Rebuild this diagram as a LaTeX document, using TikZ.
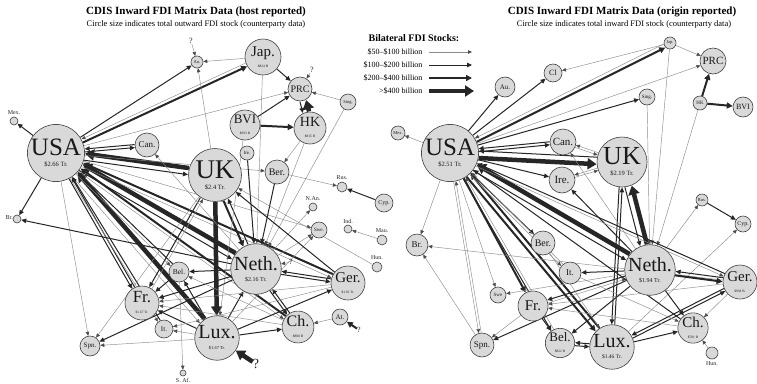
\documentclass[tikz,border=0pt]{standalone}
\usepackage{fontspec}
\setmainfont{Liberation Serif}
\usetikzlibrary{arrows.meta,calc}
\pgfdeclarelayer{bg}
\pgfsetlayers{bg,main}
\newcommand\fs[1]{\fontsize{#1}{#1}\selectfont}
\newcommand\pe[4]{%
  \pgfmathanglebetweenpoints{\pgfpointanchor{#2}{center}}{\pgfpointanchor{#3}{center}}%
  \edef\peang{\pgfmathresult}%
  \draw[#1, transform canvas={shift={(\peang-90:#4)}}] (#2) -- (#3);}
\tikzset{
  cn/.style={circle, draw=black!75, fill=black!15, line width=0.6pt, inner sep=0pt, align=center, text=black!90},
  lbl/.style={inner sep=0pt, font=\fs{6}, text=black!85},
  qm/.style={inner sep=0pt, font=\fs{8}, text=black!85},
  a1/.style={draw=black!45, line width=0.45pt, -{Triangle[length=4pt,width=3.5pt,color=black!70]}},
  a2/.style={draw=black!85, line width=1pt, -{Triangle[length=5pt,width=4.5pt]}},
  a3/.style={draw=black!85, line width=2pt, -{Triangle[length=6pt,width=6pt]}},
  a4/.style={draw=black!85, line width=4.5pt, -{Triangle[length=9pt,width=11pt]}},
}
\begin{document}
\begin{tikzpicture}[x=1pt,y=-1pt]
\useasboundingbox (0,0) rectangle (757,383);
% titles
\node[font=\bfseries\fs{11}] (tL) at (196,12) {CDIS Inward FDI Matrix Data (host reported)};
\node[font=\fs{8.5}] (sL) at (196,24) {Circle size indicates total outward FDI stock (counterparty data)};
\node[font=\bfseries\fs{11}] (tR) at (622,12) {CDIS Inward FDI Matrix Data (origin reported)};
\node[font=\fs{8.5}] (sR) at (624,24) {Circle size indicates total inward FDI stock (counterparty data)};
% legend
\node[font=\bfseries\fs{10}] (lg) at (414,38) {Bilateral FDI Stocks:};
\node[font=\fs{8}, anchor=east] (lg1) at (426,52) {\$50--\$100 billion};
\node[font=\fs{8}, anchor=east] (lg2) at (426,65) {\$100--\$200 billion};
\node[font=\fs{8}, anchor=east] (lg3) at (426,78) {\$200--\$400 billion};
\node[font=\fs{8}, anchor=east] (lg4) at (426,91) {>\$400 billion};
\coordinate (g1s) at (429,52); \coordinate (g1e) at (472,52);
\coordinate (g2s) at (429,65); \coordinate (g2e) at (472,65);
\coordinate (g3s) at (429,78); \coordinate (g3e) at (472,78);
\coordinate (g4s) at (429,91); \coordinate (g4e) at (474,91);
\draw[a1] (g1s) -- (g1e);
\draw[a2] (g2s) -- (g2e);
\draw[a3] (g3s) -- (g3e);
\draw[a4] (g4s) -- (g4e);

% ===== LEFT PANEL NODES =====
\node[cn, minimum size=56pt] (LUSA) at (56,153) {\fs{25}USA\\[-1pt]\fs{6.5}\$2.66 Tr.};
\node[cn, minimum size=8pt] (LMex) at (14,121) {};
\node[lbl] (LMexl) at (14,113) {Mex.};
\node[cn, minimum size=8pt] (LBr) at (17,219) {};
\node[lbl, anchor=east] (LBrl) at (13,218) {Br.};
\node[cn, minimum size=12pt] (LAu) at (197,62) {\fs{4.5}Au.};
\node[qm] (LqAu) at (191,41) {?};
\node[cn, minimum size=36pt] (LJap) at (263,57) {\fs{15}Jap.\\[-1pt]\fs{3.5}\$824 B};
\node[cn, minimum size=24pt] (LPRC) at (300,89) {\fs{10}PRC};
\node[qm] (LqPRC) at (312,70) {?};
\node[cn, minimum size=16pt] (LSing) at (348,102) {\fs{4.5}Sing.};
\node[cn, minimum size=30pt] (LBVI) at (245,125) {\fs{13}BVI\\[-1pt]\fs{3.5}\$693 B};
\node[cn, minimum size=32pt] (LHK) at (310,128) {\fs{14}HK\\[-1pt]\fs{3.5}\$815 B};
\node[cn, minimum size=24pt] (LCan) at (147,145) {\fs{9}Can.};
\node[cn, minimum size=53pt] (LUK) at (215,175) {\fs{27}UK\\[-1pt]\fs{6.5}\$2.4 Tr.};
\node[cn, minimum size=14pt] (LIre) at (247,153) {\fs{5}Ire.};
\node[cn, minimum size=24pt] (LBer) at (277,172) {\fs{10}Ber.};
\node[cn, minimum size=10pt] (LRus) at (342,187) {};
\node[lbl] (LRusl) at (342,178) {Rus.};
\node[cn, minimum size=18pt] (LCyp) at (384,203) {\fs{6}Cyp.};
\node[cn, minimum size=8pt] (LNAn) at (313,207) {};
\node[lbl] (LNAnl) at (313,199) {N.An.};
\node[cn, minimum size=16pt] (LSwe) at (319,230) {\fs{5}Swe.};
\node[cn, minimum size=8pt] (LInd) at (348,229) {};
\node[lbl] (LIndl) at (348,221) {Ind.};
\node[cn, minimum size=10pt] (LMau) at (382,240) {};
\node[lbl] (LMaul) at (382,231) {Mau.};
\node[cn, minimum size=10pt] (LHun) at (377,267) {};
\node[lbl] (LHunl) at (377,258) {Hun.};
\node[cn, minimum size=47pt] (LNeth) at (256,269) {\fs{20}Neth.\\[-1pt]\fs{6}\$2.16 Tr.};
\node[qm] (LqNeth) at (291,262) {?};
\node[cn, minimum size=34pt] (LGer) at (348,283) {\fs{15}Ger.\\[-1pt]\fs{3.5}\$1.01 Tr.};
\node[cn, minimum size=20pt] (LBel) at (179,272) {\fs{7.5}Bel.};
\node[cn, minimum size=34pt] (LFr) at (142,303) {\fs{17}Fr.\\[-1pt]\fs{3.5}\$1.67 Tr.};
\node[cn, minimum size=18pt] (LIt) at (164,329) {\fs{7}It.};
\node[cn, minimum size=43pt] (LLux) at (217,338) {\fs{20}Lux.\\[-1pt]\fs{4.5}\$1.67 Tr.};
\node[qm, font=\fs{14}] (LqLux) at (256,364) {?};
\node[cn, minimum size=30pt] (LCh) at (298,327) {\fs{16}Ch.\\[-1pt]\fs{3.5}\$800 B};
\node[cn, minimum size=16pt] (LAt) at (340,317) {\fs{7}At.};
\node[qm] (LqAt) at (359,330) {?};
\node[cn, minimum size=20pt] (LSpn) at (90,346) {\fs{7}Spn.};
\node[cn, minimum size=6pt] (LSAf) at (183,373) {};
\node[lbl] (LSAfl) at (183,380) {S. Af.};

% ===== RIGHT PANEL NODES =====
\node[cn, minimum size=12pt] (RJap) at (670,43) {\fs{4.5}Jap.};
\node[cn, minimum size=26pt] (RPRC) at (713,61) {\fs{11}PRC};
\node[cn, minimum size=18pt] (RCl) at (553,73) {\fs{8}Cl};
\node[cn, minimum size=20pt] (RAu) at (505,87) {\fs{7}Au.};
\node[cn, minimum size=16pt] (RSing) at (647,97) {\fs{5}Sing.};
\node[cn, minimum size=14pt] (RHK) at (700,103) {\fs{5}HK};
\node[cn, minimum size=20pt] (RBVI) at (743,107) {\fs{8}BVI};
\node[cn, minimum size=14pt] (RMex) at (398,133) {\fs{4.5}Mex.};
\node[cn, minimum size=54pt] (RUSA) at (450,153) {\fs{25}USA\\[-1pt]\fs{6.5}\$2.51 Tr.};
\node[cn, minimum size=26pt] (RCan) at (563,142) {\fs{11}Can.};
\node[cn, minimum size=50pt] (RUK) at (622,162) {\fs{26}UK\\[-1pt]\fs{6.5}\$2.19 Tr.};
\node[cn, minimum size=26pt] (RIre) at (562,180) {\fs{11}Ire.};
\node[cn, minimum size=12pt] (RRus) at (702,200) {\fs{4.5}Rus.};
\node[cn, minimum size=16pt] (RCyp) at (743,224) {\fs{6}Cyp.};
\node[cn, minimum size=22pt] (RBr) at (417,245) {\fs{9}Br.};
\node[cn, minimum size=24pt] (RBer) at (543,243) {\fs{10}Ber.};
\node[cn, minimum size=22pt] (RIt) at (570,273) {\fs{9}It.};
\node[cn, minimum size=46pt] (RNeth) at (650,270) {\fs{20}Neth.\\[-1pt]\fs{6}\$1.94 Tr.};
\node[cn, minimum size=34pt] (RGer) at (740,282) {\fs{15}Ger.\\[-1pt]\fs{3.5}\$938 B.};
\node[cn, minimum size=16pt] (RSwe) at (498,295) {\fs{5}Swe};
\node[cn, minimum size=30pt] (RFr) at (533,306) {\fs{15}Fr.};
\node[cn, minimum size=30pt] (RCh) at (693,328) {\fs{15}Ch.\\[-1pt]\fs{3.5}\$781 B};
\node[cn, minimum size=24pt] (RSpn) at (482,345) {\fs{9}Spn.};
\node[cn, minimum size=28pt] (RBel) at (560,343) {\fs{13}Bel.\\[-1pt]\fs{3.5}\$822 B};
\node[cn, minimum size=42pt] (RLux) at (612,347) {\fs{20}Lux.\\[-1pt]\fs{5.5}\$1.46 Tr.};
\node[cn, minimum size=12pt] (RHun) at (712,353) {};
\node[lbl] (RHunl) at (712,364) {Hun.};

\begin{pgfonlayer}{bg}
\fill[white] (0,0) rectangle (757,383);
% ===== LEFT PANEL EDGES =====
\pe{a3}{LUSA}{LJap}{1.8pt}
\pe{a1}{LJap}{LUSA}{1.8pt}
\draw[a2] (LUSA) -- (LAu);
\draw[a1] (LJap) -- (LAu);
\draw[a1] (LqAu) -- (LAu);
\draw[a1] (LqPRC) -- (LPRC);
\draw[a2] (LJap) -- (LPRC);
\draw[a2] (LBVI) -- (LPRC);
\pe{a4}{LHK}{LPRC}{3.2pt}
\pe{a2}{LPRC}{LHK}{3.2pt}
\draw[a1] (LSing) -- (LPRC);
\draw[a3] (LBVI) -- (LHK);
\draw[a1] (LUSA) -- (LPRC);
\draw[a1] (LJap) -- (LNeth);
\draw[a1] (LUK) -- (LAu);
\draw[a1] (LBel) -- (LSAf);
\pe{a2}{LUSA}{LCan}{1.5pt}
\pe{a2}{LCan}{LUSA}{1.5pt}
\pe{a4}{LUK}{LUSA}{3.3pt}
\pe{a2}{LUSA}{LUK}{3.3pt}
\draw[a2] (LUSA) -- (LMex);
\draw[a2] (LUSA) -- (LBr);
\pe{a4}{LNeth}{LUSA}{3.5pt}
\pe{a2}{LUSA}{LNeth}{3.5pt}
\pe{a4}{LLux}{LUSA}{3.2pt}
\pe{a1}{LUSA}{LLux}{3.2pt}
\pe{a3}{LGer}{LUSA}{2pt}
\pe{a1}{LUSA}{LGer}{2pt}
\pe{a3}{LCh}{LUSA}{1.8pt}
\pe{a1}{LUSA}{LCh}{1.8pt}
\pe{a2}{LFr}{LUSA}{1.5pt}
\pe{a2}{LUSA}{LFr}{1.5pt}
\pe{a2}{LBel}{LUSA}{1.5pt}
\pe{a1}{LUSA}{LBel}{1.5pt}
\pe{a2}{LIt}{LUSA}{1.3pt}
\pe{a1}{LUSA}{LIt}{1.3pt}
\draw[a1] (LUSA) -- (LSpn);
\draw[a1] (LUSA) -- (LBer);
\draw[a1] (LUSA) -- (LSwe);
\draw[a2] (LNeth) -- (LBr);
\draw[a4] (LUK) -- (LLux);
\pe{a3}{LUK}{LNeth}{2.5pt}
\pe{a2}{LNeth}{LUK}{2.5pt}
\draw[a2] (LIre) -- (LNeth);
\draw[a2] (LBer) -- (LNeth);
\draw[a1] (LHK) -- (LNeth);
\draw[a1] (LSing) -- (LNeth);
\draw[a1] (LBVI) -- (LLux);
\draw[a2] (LCyp) -- (LRus);
\draw[a1] (LBer) -- (LRus);
\draw[a1] (LMau) -- (LInd);
\draw[a1] (LNeth) -- (LSwe);
\draw[a1] (LLux) -- (LSwe);
\draw[a1] (LNeth) -- (LNAn);
\draw[a1] (LHun) -- (LUK);
\pe{a2}{LGer}{LNeth}{1.5pt}
\pe{a2}{LNeth}{LGer}{1.5pt}
\draw[a2] (LGer) -- (LUK);
\draw[a2] (LNeth) -- (LBel);
\draw[a2] (LNeth) -- (LFr);
\draw[a2] (LLux) -- (LNeth);
\draw[a2] (LLux) -- (LFr);
\draw[a2] (LLux) -- (LCh);
\draw[a2] (LLux) -- (LGer);
\draw[a1] (LLux) -- (LSpn);
\draw[a1] (LLux) -- (LIt);
\draw[a2] (LLux) -- (LBel);
\pe{a2}{LCh}{LNeth}{1.5pt}
\pe{a2}{LNeth}{LCh}{1.5pt}
\draw[a1] (LAt) -- (LCh);
\draw[a3] (LqAt) -- (LAt);
\draw[a4] (LqLux) -- (LLux);
\draw[a1] (LqNeth) -- (LNeth);
\draw[a2] (LBel) -- (LFr);
\pe{a1}{LFr}{LUK}{1.5pt}
\pe{a2}{LUK}{LFr}{1.5pt}
\draw[a1] (LGer) -- (LFr);
\draw[a1] (LCh) -- (LFr);
\draw[a2] (LNeth) -- (LSpn);
\draw[a1] (LNeth) -- (LCan);
\draw[a1] (LUK) -- (LSpn);
\draw[a1] (LGer) -- (LIt);
\draw[a1] (LHK) -- (LBer);
\draw[a1] (LCh) -- (LBel);

% ===== RIGHT PANEL EDGES =====
\pe{a3}{RUSA}{RJap}{2pt}
\pe{a1}{RJap}{RUSA}{2pt}
\draw[a1] (RJap) -- (RCl);
\draw[a2] (RUSA) -- (RCl);
\draw[a2] (RUSA) -- (RAu);
\draw[a2] (RUSA) -- (RSing);
\draw[a1] (RJap) -- (RPRC);
\draw[a3] (RHK) -- (RPRC);
\draw[a3] (RHK) -- (RBVI);
\draw[a1] (RUSA) -- (RPRC);
\pe{a2}{RUSA}{RCan}{1.5pt}
\pe{a2}{RCan}{RUSA}{1.5pt}
\pe{a1}{RCan}{RUK}{1.2pt}
\pe{a1}{RUK}{RCan}{1.2pt}
\pe{a4}{RUSA}{RUK}{3.5pt}
\pe{a2}{RUK}{RUSA}{3.5pt}
\draw[a2] (RUSA) -- (RIre);
\pe{a1}{RUK}{RIre}{1.2pt}
\pe{a1}{RIre}{RUK}{1.2pt}
\draw[a1] (RUSA) -- (RMex);
\draw[a1] (RUSA) -- (RBr);
\pe{a4}{RNeth}{RUSA}{3.5pt}
\pe{a2}{RUSA}{RNeth}{3.5pt}
\pe{a3}{RLux}{RUSA}{2.5pt}
\pe{a3}{RUSA}{RLux}{2.5pt}
\draw[a3] (RUSA) -- (RFr);
\draw[a2] (RUSA) -- (RBer);
\pe{a2}{RUSA}{RBel}{1.4pt}
\pe{a1}{RBel}{RUSA}{1.4pt}
\pe{a1}{RUSA}{RIt}{1.2pt}
\pe{a1}{RIt}{RUSA}{1.2pt}
\pe{a1}{RUSA}{RSpn}{1.2pt}
\pe{a1}{RSpn}{RUSA}{1.2pt}
\draw[a1] (RUSA) -- (RSwe);
\draw[a1] (RSpn) -- (RBr);
\draw[a1] (RGer) -- (RBr);
\pe{a4}{RNeth}{RUK}{3.5pt}
\pe{a2}{RUK}{RNeth}{3.5pt}
\pe{a2}{RUK}{RLux}{1.5pt}
\pe{a2}{RLux}{RUK}{1.5pt}
\draw[a2] (RRus) -- (RCyp);
\draw[a1] (RNeth) -- (RRus);
\draw[a1] (RLux) -- (RCyp);
\draw[a1] (RJap) -- (RNeth);
\draw[a1] (RSing) -- (RNeth);
\draw[a1] (RHK) -- (RNeth);
\draw[a2] (RNeth) -- (RIt);
\pe{a3}{RNeth}{RGer}{2pt}
\pe{a2}{RGer}{RNeth}{2pt}
\pe{a2}{RNeth}{RFr}{1.5pt}
\pe{a1}{RFr}{RNeth}{1.5pt}
\pe{a2}{RLux}{RBel}{1.5pt}
\pe{a2}{RBel}{RLux}{1.5pt}
\draw[a2] (RLux) -- (RCh);
\pe{a2}{RLux}{RGer}{1.5pt}
\pe{a2}{RGer}{RLux}{1.5pt}
\draw[a2] (RNeth) -- (RCh);
\draw[a2] (RFr) -- (RBel);
\draw[a2] (RNeth) -- (RSpn);
\draw[a1] (RHun) -- (RCh);
\draw[a1] (RGer) -- (RFr);
\draw[a1] (RCh) -- (RFr);
\draw[a1] (RNeth) -- (RSwe);
\draw[a2] (RNeth) -- (RIre);
\draw[a1] (RNeth) -- (RCan);
\pe{a2}{RGer}{RUSA}{1.5pt}
\pe{a1}{RUSA}{RGer}{1.5pt}
\draw[a2] (RCh) -- (RUSA);
\draw[a2] (RNeth) -- (RBel);
\draw[a1] (RFr) -- (RSpn);
\draw[a1] (RBer) -- (RLux);
\draw[a1] (RIt) -- (RCh);
\draw[a1] (RGer) -- (RCh);
\end{pgfonlayer}
\end{tikzpicture}
\end{document}
